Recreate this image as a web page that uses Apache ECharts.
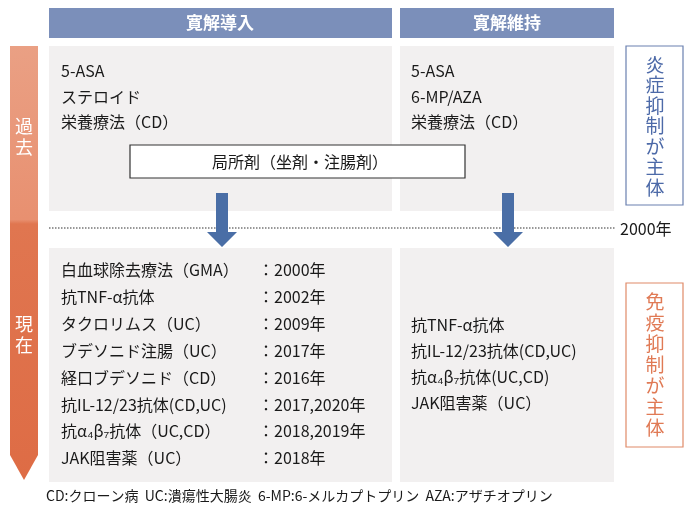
<!DOCTYPE html>
<html>
<head>
<meta charset="UTF-8">
<script src="https://cdn.jsdelivr.net/npm/echarts@6/dist/echarts.min.js"></script>
<style>html,body{margin:0;padding:0;background:#fff}#main{width:700px;height:513px}</style>
</head>
<body>
<div id="main"></div>
<script>
// text content
var headers = ['寛解導入', '寛解維持'];
var pastInduction = ['5-ASA', 'ステロイド', '栄養療法（CD）'];
var pastMaintenance = ['5-ASA', '6-MP/AZA', '栄養療法（CD）'];
var localDrug = '局所剤（坐剤・注腸剤）';
var nowInduction = ['白血球除去療法（GMA）', '抗TNF-α抗体', 'タクロリムス（UC）', 'ブデソニド注腸（UC）',
  '経口ブデソニド（CD）', '抗IL-12/23抗体(CD,UC)', '抗α₄β₇抗体（UC,CD）', 'JAK阻害薬（UC）'];
var nowYears = ['：2000年', '：2002年', '：2009年', '：2017年', '：2016年', '：2017,2020年', '：2018,2019年', '：2018年'];
var nowMaintenance = ['抗TNF-α抗体', '抗IL-12/23抗体(CD,UC)', '抗α₄β₇抗体(UC,CD)', 'JAK阻害薬（UC）'];
var eraLabels = ['過去', '現在'];
var sideLabels = ['炎症抑制が主体', '免疫抑制が主体'];
var yearMark = '2000年';
var footnote = 'CD:クローン病  UC:潰瘍性大腸炎  6-MP:6-メルカプトプリン  AZA:アザチオプリン';

var FONT = '"Noto Sans CJK JP", sans-serif';
var BLUE = '#7b8fba', ORANGE = '#e07a55', GRAY = '#f2f0f0';
var chart = echarts.init(document.getElementById('main'));
var g = [];

function rect(x, y, w, h, style) { g.push({type: 'rect', shape: {x: x, y: y, width: w, height: h}, style: style}); }
function txt(x, y, s, st) {
  g.push({type: 'text', x: x, y: y, style: Object.assign({text: s, fontFamily: FONT, fontSize: 16, fill: '#1a1a1a', verticalAlign: 'middle'}, st || {})});
}
function lines(x, y0, step, arr, st) { arr.forEach(function (s, i) { txt(x, y0 + i * step, s, st); }); }

// headers
rect(49, 8, 343, 30, {fill: BLUE});
rect(400, 8, 214, 30, {fill: BLUE});
txt(220, 23, headers[0], {fill: '#fff', fontWeight: 'bold', fontSize: 17, align: 'center'});
txt(507, 23, headers[1], {fill: '#fff', fontWeight: 'bold', fontSize: 17, align: 'center'});

// panels
rect(49, 46, 343, 165, {fill: GRAY});
rect(400, 46, 214, 165, {fill: GRAY});
rect(49, 248, 343, 234, {fill: GRAY});
rect(400, 248, 214, 234, {fill: GRAY});

lines(61, 71, 25.5, pastInduction);
lines(411, 71, 25.5, pastMaintenance);

rect(130, 145, 335, 33, {fill: '#fff', stroke: '#333', lineWidth: 1.2});
txt(300, 162, localDrug, {align: 'center'});

// dotted 2000 line
g.push({type: 'line', shape: {x1: 49, y1: 228, x2: 616, y2: 228}, style: {stroke: '#333', lineWidth: 1.2, lineDash: [1.5, 1.5]}});
txt(620, 229, yearMark, {fontSize: 16});

// blue arrows
[222, 508].forEach(function (cx) {
  g.push({type: 'polygon', shape: {points: [[cx - 6, 193], [cx + 6, 193], [cx + 6, 232], [cx + 15, 232], [cx, 247], [cx - 15, 232], [cx - 6, 232]]}, style: {fill: '#4a6ea6'}});
});

lines(61, 270, 26.9, nowInduction);
lines(258, 270, 26.9, nowYears);
lines(411, 325, 26, nowMaintenance);

// time arrow
g.push({type: 'polygon', shape: {points: [[10, 46], [38, 46], [38, 455], [24, 480], [10, 455]]},
  style: {fill: new echarts.graphic.LinearGradient(0, 0, 0, 1, [
    {offset: 0, color: '#eaa084'}, {offset: 0.4, color: '#e89070'}, {offset: 0.41, color: '#e07650'}, {offset: 1, color: '#de6c45'}])}});
txt(24, 137, eraLabels[0].split('').join('\n'), {fill: '#fff', align: 'center', fontSize: 18, lineHeight: 21});
txt(24, 335, eraLabels[1].split('').join('\n'), {fill: '#fff', align: 'center', fontSize: 18, lineHeight: 21});

// side boxes
rect(626, 46, 57, 159, {fill: '#fff', stroke: '#6a80b0', lineWidth: 1.2});
txt(655, 126, sideLabels[0].split('').join('\n'), {fill: '#4d6aa8', align: 'center', fontSize: 19, lineHeight: 20.5});
rect(626, 283, 57, 164, {fill: '#fff', stroke: '#e08a68', lineWidth: 1.2});
txt(655, 365, sideLabels[1].split('').join('\n'), {fill: '#e07a55', align: 'center', fontSize: 19, lineHeight: 21});

txt(46, 496, footnote, {fontSize: 14});

chart.setOption({animation: false, graphic: g});
</script>
</body>
</html>
